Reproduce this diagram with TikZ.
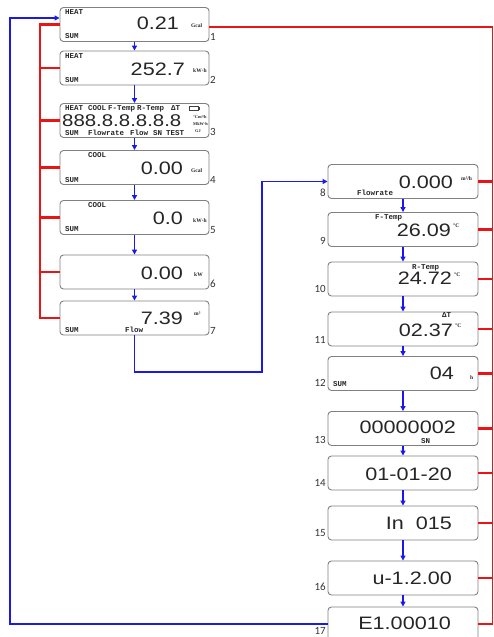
\documentclass[tikz,border=0pt]{standalone}
\usepackage{fontspec}
\usetikzlibrary{arrows.meta,calc}
\newfontfamily\lcdfont[FakeStretch=1.2]{Liberation Sans}
\newfontfamily\tagfont{Liberation Mono}
\newfontfamily\unitfont{Liberation Serif}
\newfontfamily\numfont{Carlito}
\definecolor{lineblue}{RGB}{25,25,235}
\definecolor{linered}{RGB}{235,20,20}
\begin{document}
\begin{tikzpicture}[x=1pt,y=-1pt,
  lcdbox/.style={draw=black!50, line width=0.9pt, rounded corners=3.5pt, minimum height=34pt, inner sep=0pt, fill=white},
  lbox/.style={lcdbox, minimum width=149pt},
  rbox/.style={lcdbox, minimum width=150pt},
  big/.style={inner sep=0pt, text=black!85, font=\lcdfont\fontsize{18}{18}\selectfont},
  bigs/.style={inner sep=0pt, text=black!85, font=\lcdfont\fontsize{17}{17}\selectfont},
  tag/.style={inner sep=0pt, text=black!85, anchor=base west, font=\tagfont\bfseries\fontsize{7.5}{8}\selectfont},
  unit/.style={inner sep=0pt, text=black!85, anchor=west, font=\unitfont\bfseries\fontsize{5.5}{6}\selectfont},
  tinyunit/.style={inner sep=0pt, text=black!85, anchor=west, font=\unitfont\bfseries\fontsize{4.3}{5}\selectfont},
  num/.style={inner sep=0pt, text=black!80, font=\numfont\fontsize{11}{11}\selectfont},
  flow/.style={draw=lineblue, line width=1.6pt},
  arr/.style={flow, -{Triangle[length=5pt,width=5pt]}},
  bus/.style={draw=linered, line width=2.2pt},
  busthin/.style={draw=linered, line width=1.2pt}]
\useasboundingbox (0,0) rectangle (494,637);

% ---------- left column boxes ----------
\node[lbox] (b1) at (134.5,24.5) {};
\node[lbox] (b2) at (134.5,68) {};
\node[lbox] (b3) at (134.5,120.5) {};
\node[lbox] (b4) at (134.5,167.5) {};
\node[lbox] (b5) at (134.5,217.5) {};
\node[lbox] (b6) at (134.5,272) {};
\node[lbox] (b7) at (134.5,318) {};
% ---------- right column boxes ----------
\node[rbox] (b8) at (403,181.5) {};
\node[rbox] (b9) at (403,229.5) {};
\node[rbox] (b10) at (403,279) {};
\node[rbox] (b11) at (403,329) {};
\node[rbox] (b12) at (403,373.5) {};
\node[rbox] (b13) at (403,428.5) {};
\node[rbox] (b14) at (403,473) {};
\node[rbox] (b15) at (403,523) {};
\node[rbox] (b16) at (403,578) {};
\node[rbox] (b17) at (403,624) {};

% ---------- box contents ----------
% 1
\node[tag] (h1) at (65,14.2) {HEAT};
\node[tag] (s1) at (65,38.2) {SUM};
\node[big, anchor=east] (d1) at (179,23) {0.21};
\node[unit] (u1) at (191,26) {Gcal};
\node[num, anchor=west] (n1) at (210,37) {1};
% 2
\node[tag] (h2) at (65,58.2) {HEAT};
\node[tag] (s2) at (65,82.2) {SUM};
\node[big, anchor=east] (d2) at (185,69) {252.7};
\node[unit] (u2) at (193,71) {kW·h};
\node[num, anchor=west] (n2) at (210,80) {2};
% 3
\node[tag] (t3a) at (65,110.2) {HEAT};
\node[tag] (t3b) at (88,110.2) {COOL};
\node[tag] (t3c) at (108,110.2) {F-Temp};
\node[tag] (t3d) at (137,110.2) {R-Temp};
\node[tag] (t3e) at (171,110.2) {ΔT};
\draw[black!75, line width=0.5pt] (189,106) rectangle (198,110.5);
\draw[black!75, line width=0.5pt] (198,107.3) rectangle (199.5,109.2);
\node[bigs, anchor=west] (d3) at (62,121) {888.8.8.8.8.8};
\node[tinyunit] (u3a) at (193,117) {°Cm³/h};
\node[tinyunit] (u3b) at (193,124) {MkW·h};
\node[tinyunit] (u3c) at (195,131) {GJ};
\node[tag] (t3f) at (65,135.2) {SUM};
\node[tag] (t3g) at (88,135.2) {Flowrate};
\node[tag] (t3h) at (130,135.2) {Flow};
\node[tag] (t3i) at (153,135.2) {SN};
\node[tag] (t3j) at (166,135.2) {TEST};
\node[num, anchor=west] (n3) at (210,132) {3};
% 4
\node[tag] (c4) at (88,157.2) {COOL};
\node[tag] (s4) at (65,182.2) {SUM};
\node[big, anchor=east] (d4) at (183,168) {0.00};
\node[unit] (u4) at (191,171) {Gcal};
\node[num, anchor=west] (n4) at (210,180) {4};
% 5
\node[tag] (c5) at (88,207.2) {COOL};
\node[tag] (s5) at (65,231.2) {SUM};
\node[big, anchor=east] (d5) at (183,218) {0.0};
\node[unit] (u5) at (193,221) {kW·h};
\node[num, anchor=west] (n5) at (210,230) {5};
% 6
\node[big, anchor=east] (d6) at (183,273) {0.00};
\node[unit] (u6) at (194,275) {kW};
\node[num, anchor=west] (n6) at (210,284) {6};
% 7
\node[big, anchor=east] (d7) at (183,318) {7.39};
\node[unit] (u7) at (194,314) {m³};
\node[tag] (s7) at (65,332) {SUM};
\node[tag] (f7) at (125,332) {Flow};
\node[num, anchor=west] (n7) at (210,331) {7};
% 8
\node[big, anchor=east] (d8) at (453,182) {0.000};
\node[unit] (u8) at (461,179) {m³/h};
\node[tag] (f8) at (357,195) {Flowrate};
\node[num, anchor=east] (n8) at (326,193) {8};
% 9
\node[tag] (t9) at (375,219) {F-Temp};
\node[big, anchor=east] (d9) at (451,230) {26.09};
\node[unit] (u9) at (453,226) {°C};
\node[num, anchor=east] (n9) at (326,241) {9};
% 10
\node[tag] (t10) at (412,269) {R-Temp};
\node[big, anchor=east] (d10) at (452,278) {24.72};
\node[unit] (u10) at (454,275) {°C};
\node[num, anchor=east] (n10) at (326,289) {10};
% 11
\node[tag] (t11) at (442,317.5) {ΔT};
\node[big, anchor=east] (d11) at (453,330) {02.37};
\node[unit] (u11) at (455,326) {°C};
\node[num, anchor=east] (n11) at (326,340) {11};
% 12
\node[big, anchor=east] (d12) at (454,373) {04};
\node[unit] (u12) at (470,378) {h};
\node[tag] (s12) at (333,386) {SUM};
\node[num, anchor=east] (n12) at (326,383) {12};
% 13
\node[big, anchor=east] (d13) at (456,427.5) {00000002};
\node[tag] (t13) at (421,443.5) {SN};
\node[num, anchor=east] (n13) at (326,440) {13};
% 14
\node[big, anchor=east] (d14) at (452,474) {01-01-20};
\node[num, anchor=east] (n14) at (326,483) {14};
% 15
\node[big, anchor=east] (d15) at (452,523) {In\hspace{12pt}015};
\node[num, anchor=east] (n15) at (326,533) {15};
% 16
\node[big, anchor=east] (d16) at (452,578) {u-1.2.00};
\node[num, anchor=east] (n16) at (326,587) {16};
% 17
\node[big, anchor=east] (d17) at (451,623) {E1.00010};
\node[num, anchor=east] (n17) at (326,630.5) {17};

% ---------- red buses ----------
\coordinate (rl) at (40,0);
\coordinate (rr) at (492.5,0);
\draw[bus] (b1.west) -- (b1.west -| rl) -- (b7.west -| rl) -- (b7.west);
\foreach \k in {2,...,6} { \draw[bus] (b\k.west) -- (b\k.west -| rl); }
\coordinate (rtop) at ([yshift=-2.5pt]b1.east);
\draw[bus] (rtop) -- (rtop -| rr);
\draw[busthin] (rtop -| rr) -- (b17.east -| rr);
\foreach \k in {8,...,17} { \draw[bus] (b\k.east) -- (b\k.east -| rr); }

% ---------- blue flow ----------
\foreach \a/\b in {1/2,2/3,3/4,4/5,5/6,6/7,8/9,9/10,10/11,11/12,12/13,13/14,14/15,15/16,16/17}
  { \draw[arr] (b\a.south) -- (b\b.north); }
\coordinate (bl) at (262,372);
\draw[arr, line width=1.9pt] (b7.south) |- (bl) |- (b8.west);
\coordinate (lb) at (10,0);
\coordinate (tgt) at ([yshift=6.5pt]b1.west);
\draw[arr, line width=1.9pt] (b17.west) -- (b17.west -| lb) -- (lb |- tgt) -- (tgt);
\end{tikzpicture}
\end{document}
